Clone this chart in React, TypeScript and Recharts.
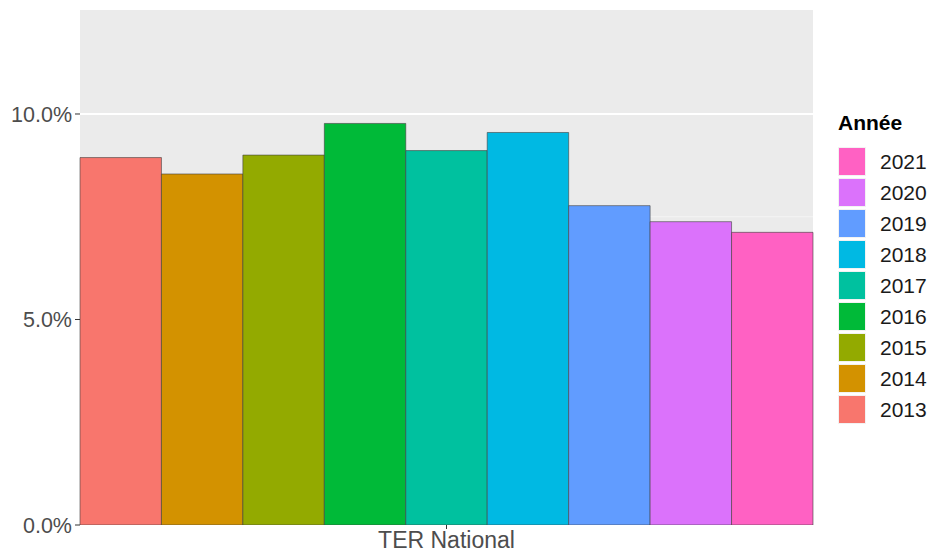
import {
  BarChart,
  Bar,
  XAxis,
  YAxis,
  CartesianGrid,
} from "recharts";

const categories = ["TER National"];
const years = ["2013", "2014", "2015", "2016", "2017", "2018", "2019", "2020", "2021"];
const rates = [8.94, 8.54, 9.0, 9.77, 9.11, 9.55, 7.77, 7.38, 7.12];
const colors = [
  "#F8766D",
  "#D39200",
  "#93AA00",
  "#00BA38",
  "#00C19F",
  "#00B9E3",
  "#619CFF",
  "#DB72FB",
  "#FF61C3",
];
const majorTicks = [0, 5, 10];
const minorTicks = [2.5, 7.5];

const data = categories.map((name) => {
  const row: Record<string, string | number> = { name };
  years.forEach((y, i) => {
    row[y] = rates[i];
  });
  return row;
});

const font = "'Liberation Sans', Arial, sans-serif";
const W = 932;
const H = 552;
const margin = { top: 10, right: 119, left: 0, bottom: 0 };
const yAxisWidth = 80;
const plotWidth = W - margin.left - margin.right - yAxisWidth;
// a hair under the band width so recharts doesn't shrink bars to 90%
const barWidth = plotWidth / years.length - 0.001;

function YearLegend() {
  const order = years.map((y, i) => ({ y, c: colors[i] })).reverse();
  return (
    <div style={{ position: "absolute", left: 838, top: 108, fontFamily: font }}>
      <div
        style={{
          fontSize: 21,
          fontWeight: "bold",
          color: "#000",
          height: 30,
          lineHeight: "30px",
          marginBottom: 8,
        }}
      >
        Année
      </div>
      {order.map(({ y, c }) => (
        <div
          key={y}
          style={{ display: "flex", alignItems: "center", height: 31 }}
        >
          <div
            style={{
              width: 28,
              height: 29,
              background: c,
              boxSizing: "border-box",
              border: "1px solid #f2f2f2",
            }}
          />
          <span style={{ marginLeft: 14, fontSize: 21, color: "#1a1a1a" }}>
            {y}
          </span>
        </div>
      ))}
    </div>
  );
}

export default function App() {
  return (
    <div
      style={{
        position: "absolute",
        left: 0,
        top: 0,
        width: W,
        height: H,
        background: "#fff",
      }}
    >
      <BarChart
        width={W}
        height={H}
        data={data}
        margin={margin}
        barCategoryGap={0}
        barGap={0}
        barSize={barWidth}
      >
        <CartesianGrid
          horizontalValues={minorTicks}
          vertical={false}
          stroke="#F5F5F5"
          strokeWidth={1}
          fill="#EBEBEB"
        />
        <CartesianGrid
          horizontalValues={majorTicks}
          vertical={false}
          stroke="#FFFFFF"
          strokeWidth={2}
        />
        <XAxis
          dataKey="name"
          height={27}
          padding={{ left: 0, right: 0 }}
          axisLine={false}
          tickLine={{ stroke: "#333333" }}
          tickSize={4}
          tickMargin={3}
          tick={{ fill: "#4D4D4D", fontSize: 23, fontFamily: font }}
        />
        <YAxis
          width={yAxisWidth}
          domain={[0, 12.53]}
          ticks={majorTicks}
          allowDataOverflow
          axisLine={false}
          tickLine={{ stroke: "#333333" }}
          tickSize={5}
          tickMargin={3}
          tickFormatter={(v: number) => `${v.toFixed(1)}%`}
          tick={{ fill: "#4D4D4D", fontSize: 21.5, fontFamily: font }}
        />
        {years.map((y, i) => (
          <Bar
            key={y}
            dataKey={y}
            fill={colors[i]}
            stroke="#404040"
            strokeWidth={0.6}
            isAnimationActive={false}
          />
        ))}
      </BarChart>
      <YearLegend />
    </div>
  );
}
